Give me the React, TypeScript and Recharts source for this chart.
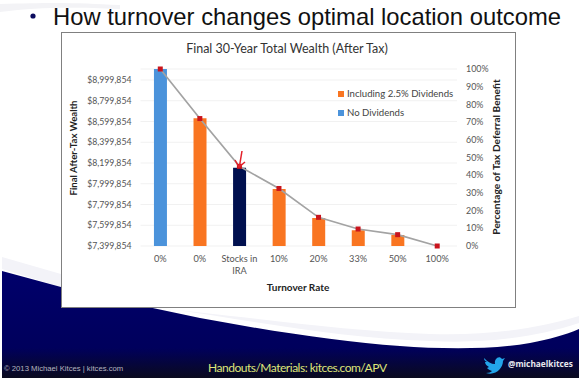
import React from "react";
import { ComposedChart, Bar, Line, XAxis, YAxis, CartesianGrid, Legend } from "recharts";

const categories = ["0%", "0%", "Stocks in IRA", "10%", "20%", "33%", "50%", "100%"];
const noDividends = [9105854, null, null, null, null, null, null, null];
const includingDividends = [null, 8630000, null, 7950000, 7670000, 7552000, 7506000, null];
const stocksInIra = [null, null, 8154000, null, null, null, null, null];
const deferralBenefit = [100, 72, 45, 32.5, 16.2, 9.6, 6.4, 0];
const wealthTicks = [7399854, 7599854, 7799854, 7999854, 8199854, 8399854, 8599854, 8799854, 8999854];
const percentTicks = [0, 10, 20, 30, 40, 50, 60, 70, 80, 90, 100];

const rows = categories.map((name, i) => ({
  name,
  noDividends: noDividends[i],
  includingDividends: includingDividends[i],
  stocksInIra: stocksInIra[i],
  deferralBenefit: deferralBenefit[i],
}));

const FONT = "Lato, 'Open Sans', sans-serif";
const BLUE = "#4b93db";
const ORANGE = "#f97521";
const NAVY = "#00104f";

const SquareDot = (p: any) => (
  <rect x={p.cx - 2.5} y={p.cy - 2.5} width={5} height={5} fill="#c9141c" />
);

const CategoryTick = (p: any) => {
  const words = String(p.payload.value).split(" ");
  const lines = words.length > 1 ? [words.slice(0, -1).join(" "), words[words.length - 1]] : words;
  return (
    <text x={p.x} y={p.y} textAnchor="middle" fontFamily={FONT} fontSize={9.2} fill="#555">
      {lines.map((l: string, i: number) => (
        <tspan key={i} x={p.x} dy={i === 0 ? 8 : 12}>{l}</tspan>
      ))}
    </text>
  );
};

const LegendBox = () => (
  <div style={{ fontFamily: FONT, fontSize: 9.6, color: "#444", lineHeight: "12px" }}>
    {[["Including 2.5% Dividends", ORANGE], ["No Dividends", BLUE]].map(([t, c], i) => (
      <div key={t} style={{ display: "flex", alignItems: "center", height: 12, marginBottom: i === 0 ? 7 : 0, whiteSpace: "nowrap" }}>
        <span style={{ width: 6, height: 6, background: c, marginRight: 3, display: "inline-block" }} />
        {t}
      </div>
    ))}
  </div>
);

const formatMoney = (v: number) => "$" + v.toLocaleString("en-US");

export default function App() {
  return (
    <div style={{ position: "absolute", left: 0, top: 0, width: 579, height: 378, overflow: "hidden", background: "#fff" }}>
      <svg width={579} height={378} style={{ position: "absolute", left: 0, top: 0 }}>
        <defs>
          <linearGradient id="foot" x1="0" y1="0" x2="0" y2="1">
            <stop offset="0" stopColor="#00006b" />
            <stop offset="0.72" stopColor="#00005c" />
            <stop offset="1" stopColor="#0a0a1e" />
          </linearGradient>
        </defs>
        <path d="M0 4 C60 2 80 3 120 5 L120 9 C70 7 40 7 0 12 Z" fill="#f3f3f6" />
        <path d="M2 257 L61 274 L61 287 L2 269 Z" fill="#f3f3f8" />
        <path d="M148 307 C260 318 340 331 430 334 C490 336 540 328 579 316 L579 323 C540 336 490 344 430 341 C340 338 260 322 170 309 Z" fill="#f3f3f8" />
        <path d="M2 271 L61 287 L148 307 L200 318 C270 331 340 342 400 346 C440 349 490 350 530 343 C550 339 565 335 579 329 L579 378 L2 378 Z" fill="url(#foot)" />
        <text x={4} y={371} fontFamily="'Liberation Sans', sans-serif" fontSize={7.7} fill="#b5b5c0">© 2013 Michael Kitces  |  kitces.com</text>
        <text x={208} y={372} fontFamily={FONT} fontSize={12} textLength={179} fill="#dfe57a">Handouts/Materials: kitces.com/APV</text>
        <text x={508} y={367} fontFamily="'Open Sans', sans-serif" fontWeight={700} fontSize={8.3} fill="#e8e8ee">@michaelkitces</text>
        <path d="M484 358 C488 362 491 364 495 364 C494 359 499 355 502 359 L505 358 L503 361 C503 368 496 376 486 373 C489 373 491 372 492 371 C489 370 488 369 487 368 L489 367 C487 366 485 364 485 362 L487 362 C485 361 484 360 484 358 Z" fill="#23a5ea" />
        <circle cx={33} cy={16} r={2.6} fill="#0b0b5e" />
        <text x={53} y={24.5} fontFamily="'Liberation Sans', Arial, sans-serif" fontSize={23.8} fill="#111">How turnover changes optimal location outcome</text>
      </svg>

      <div style={{ position: "absolute", left: 61, top: 32, width: 453, height: 274, background: "#fff", border: "1px solid #808080", boxSizing: "content-box" }} />

      <div style={{ position: "absolute", left: 0, top: 0 }}>
        <ComposedChart
          width={579}
          height={378}
          data={rows}
          margin={{ top: 69, right: 62, bottom: 92, left: 64.5 }}
          barCategoryGap="34%"
        >
          <CartesianGrid yAxisId="wealth" vertical={false} stroke="#f1f1f1" />
          <XAxis
            dataKey="name"
            interval={0}
            height={40}
            axisLine={false}
            tickLine={false}
            tickMargin={2}
            tick={<CategoryTick />}
            allowDuplicatedCategory
          />
          <YAxis
            yAxisId="wealth"
            type="number"
            domain={[7399854, 9105854]}
            ticks={wealthTicks}
            allowDataOverflow
            interval={0}
            width={76}
            axisLine={false}
            tickLine={false}
            tickMargin={3}
            tickFormatter={formatMoney}
            tick={{ fontFamily: FONT, fontSize: 8.7, fill: "#555" }}
          />
          <YAxis
            yAxisId="share"
            orientation="right"
            type="number"
            domain={[0, 100]}
            ticks={percentTicks}
            interval={0}
            width={60}
            axisLine={false}
            tickLine={false}
            tickMargin={3}
            tickFormatter={(v: number) => v + "%"}
            tick={{ fontFamily: FONT, fontSize: 8.9, fill: "#555" }}
          />
          <Legend
            layout="vertical"
            align="center"
            verticalAlign="middle"
            content={LegendBox}
            wrapperStyle={{ position: "absolute", left: 338, top: 88, width: 130, height: 32 }}
          />
          <Bar yAxisId="wealth" dataKey="noDividends" stackId="w" fill={BLUE} isAnimationActive={false} />
          <Bar yAxisId="wealth" dataKey="includingDividends" stackId="w" fill={ORANGE} isAnimationActive={false} />
          <Bar yAxisId="wealth" dataKey="stocksInIra" stackId="w" fill={NAVY} isAnimationActive={false} />
          <Line
            yAxisId="share"
            dataKey="deferralBenefit"
            stroke="#a3a3a3"
            strokeWidth={1.7}
            dot={<SquareDot />}
            activeDot={false}
            isAnimationActive={false}
          />
        </ComposedChart>
      </div>

      <svg width={579} height={378} style={{ position: "absolute", left: 0, top: 0, pointerEvents: "none" }}>
        <text x={287} y={53} textAnchor="middle" fontFamily={FONT} fontSize={12.5} fill="#333">Final 30-Year Total Wealth (After Tax)</text>
        <text x={298} y={291} textAnchor="middle" fontFamily={FONT} fontWeight={700} fontSize={10} fill="#222">Turnover Rate</text>
        <text transform="translate(77 148) rotate(-90)" textAnchor="middle" fontFamily={FONT} fontWeight={700} fontSize={9.6} fill="#222">Final After-Tax Wealth</text>
        <text transform="translate(500 157) rotate(-90)" textAnchor="middle" fontFamily={FONT} fontWeight={700} fontSize={10.2} fill="#222">Percentage of Tax Deferral Benefit</text>
        <path d="M242 151 L239.5 166" stroke="#e3202a" strokeWidth={1.5} fill="none" />
        <path d="M235 160 L239 167 L245 162" stroke="#e3202a" strokeWidth={1.5} fill="none" />
      </svg>
    </div>
  );
}
